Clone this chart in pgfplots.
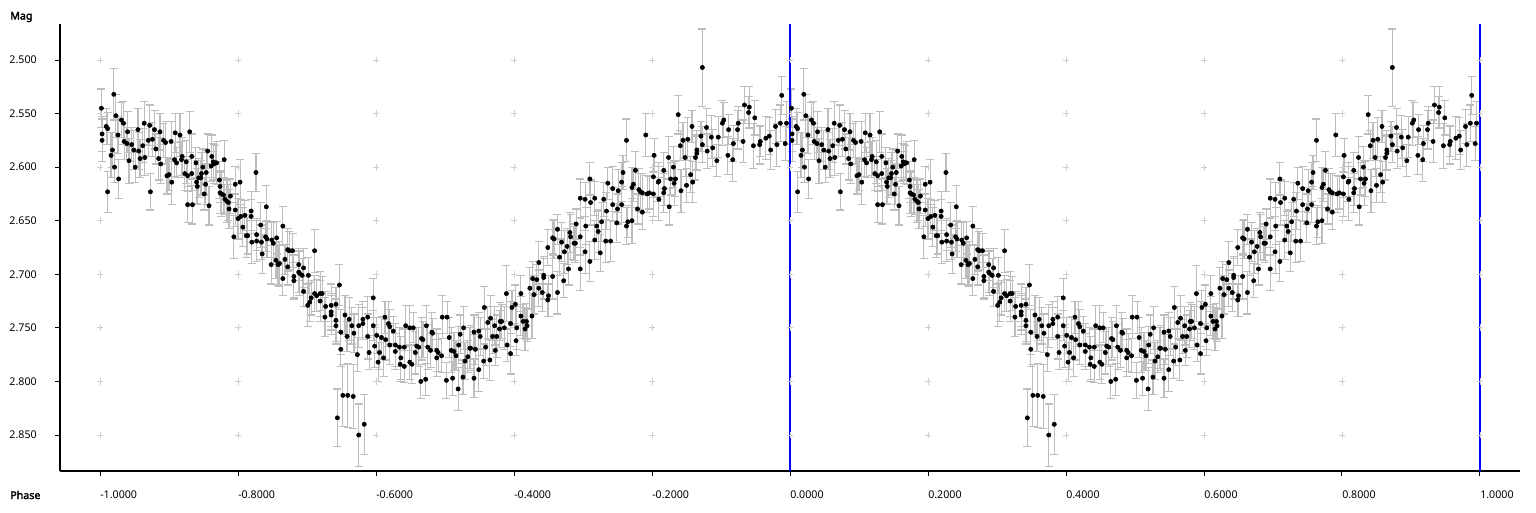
\documentclass[border=0pt]{standalone}
\usepackage{fontspec}
\setmainfont{Noto Sans}[AutoFakeBold=2.5]
\usepackage{pgfplots}
\usepackage{pgfplotstable}
\pgfplotsset{compat=1.18}
\definecolor{ebar}{RGB}{190,190,190}
\definecolor{gridc}{RGB}{208,208,208}

% phase, magnitude, error (one cycle; drawn at phase-1 and phase)
\pgfplotstableread{
x y e
0.002 2.545 0.018
0.003 2.569 0.016
0.003 2.575 0.020
0.009 2.562 0.017
0.011 2.564 0.015
0.011 2.623 0.019
0.016 2.589 0.021
0.018 2.584 0.016
0.020 2.532 0.024
0.021 2.600 0.014
0.023 2.552 0.020
0.026 2.570 0.017
0.027 2.611 0.018
0.031 2.556 0.016
0.034 2.559 0.020
0.035 2.576 0.017
0.039 2.578 0.015
0.040 2.567 0.019
0.042 2.594 0.021
0.046 2.579 0.016
0.049 2.584 0.018
0.051 2.600 0.014
0.055 2.565 0.020
0.056 2.585 0.017
0.058 2.592 0.018
0.062 2.580 0.016
0.064 2.559 0.020
0.065 2.591 0.017
0.070 2.575 0.015
0.072 2.561 0.019
0.073 2.623 0.017
0.076 2.574 0.016
0.079 2.565 0.018
0.081 2.583 0.014
0.085 2.592 0.020
0.087 2.567 0.017
0.088 2.597 0.018
0.092 2.575 0.016
0.095 2.577 0.020
0.097 2.608 0.017
0.100 2.607 0.015
0.103 2.576 0.019
0.104 2.614 0.021
0.108 2.593 0.016
0.109 2.568 0.018
0.111 2.596 0.014
0.116 2.570 0.020
0.118 2.593 0.017
0.119 2.590 0.018
0.123 2.606 0.016
0.125 2.595 0.020
0.127 2.635 0.017
0.127 2.608 0.015
0.130 2.567 0.019
0.133 2.590 0.021
0.133 2.606 0.016
0.134 2.635 0.018
0.139 2.596 0.014
0.140 2.614 0.020
0.141 2.618 0.017
0.143 2.610 0.018
0.146 2.610 0.016
0.147 2.606 0.020
0.149 2.600 0.017
0.151 2.625 0.015
0.153 2.616 0.019
0.154 2.605 0.021
0.156 2.585 0.016
0.158 2.636 0.018
0.161 2.599 0.014
0.162 2.590 0.020
0.164 2.595 0.017
0.165 2.597 0.018
0.167 2.596 0.016
0.169 2.596 0.020
0.173 2.612 0.017
0.174 2.618 0.015
0.174 2.624 0.019
0.176 2.625 0.021
0.179 2.626 0.016
0.180 2.593 0.018
0.181 2.630 0.014
0.184 2.632 0.020
0.186 2.633 0.017
0.187 2.639 0.018
0.189 2.627 0.016
0.194 2.665 0.020
0.196 2.616 0.017
0.196 2.640 0.015
0.200 2.648 0.019
0.203 2.614 0.021
0.204 2.646 0.016
0.207 2.656 0.018
0.210 2.645 0.014
0.212 2.664 0.020
0.214 2.664 0.017
0.219 2.641 0.018
0.219 2.646 0.016
0.220 2.670 0.020
0.226 2.605 0.018
0.227 2.663 0.015
0.227 2.669 0.019
0.233 2.654 0.021
0.234 2.670 0.016
0.235 2.681 0.018
0.240 2.665 0.014
0.241 2.637 0.020
0.242 2.667 0.017
0.248 2.691 0.018
0.249 2.668 0.016
0.251 2.671 0.020
0.255 2.687 0.017
0.256 2.666 0.015
0.258 2.691 0.019
0.260 2.690 0.021
0.265 2.704 0.016
0.265 2.655 0.018
0.268 2.686 0.014
0.272 2.677 0.020
0.272 2.693 0.017
0.274 2.678 0.018
0.279 2.678 0.016
0.281 2.702 0.020
0.281 2.706 0.017
0.288 2.691 0.015
0.288 2.698 0.019
0.289 2.699 0.021
0.293 2.701 0.016
0.295 2.694 0.018
0.295 2.716 0.014
0.301 2.729 0.020
0.302 2.701 0.017
0.304 2.726 0.018
0.306 2.722 0.016
0.311 2.678 0.020
0.311 2.718 0.017
0.314 2.720 0.015
0.319 2.725 0.019
0.319 2.718 0.021
0.322 2.718 0.016
0.326 2.740 0.018
0.327 2.730 0.014
0.335 2.729 0.020
0.335 2.735 0.017
0.335 2.738 0.018
0.342 2.728 0.016
0.342 2.743 0.020
0.342 2.748 0.017
0.344 2.834 0.027
0.347 2.710 0.019
0.349 2.754 0.021
0.349 2.770 0.016
0.352 2.813 0.029
0.355 2.738 0.018
0.358 2.758 0.014
0.359 2.813 0.030
0.361 2.742 0.020
0.365 2.748 0.017
0.367 2.814 0.030
0.368 2.755 0.018
0.373 2.775 0.016
0.375 2.850 0.029
0.375 2.748 0.020
0.381 2.742 0.017
0.381 2.746 0.015
0.383 2.840 0.028
0.388 2.740 0.019
0.388 2.758 0.021
0.390 2.773 0.016
0.396 2.722 0.018
0.396 2.748 0.014
0.398 2.767 0.020
0.401 2.757 0.017
0.403 2.782 0.018
0.405 2.773 0.016
0.408 2.759 0.020
0.411 2.778 0.017
0.413 2.740 0.015
0.414 2.761 0.019
0.418 2.746 0.021
0.420 2.749 0.016
0.420 2.766 0.018
0.425 2.753 0.014
0.428 2.766 0.020
0.428 2.772 0.017
0.434 2.768 0.018
0.435 2.784 0.016
0.436 2.778 0.020
0.441 2.768 0.017
0.441 2.786 0.015
0.443 2.748 0.019
0.449 2.750 0.021
0.449 2.782 0.016
0.452 2.784 0.018
0.454 2.750 0.014
0.457 2.773 0.020
0.459 2.767 0.017
0.462 2.768 0.018
0.465 2.800 0.016
0.466 2.760 0.020
0.468 2.761 0.017
0.472 2.798 0.015
0.473 2.748 0.019
0.475 2.768 0.021
0.479 2.771 0.016
0.481 2.754 0.018
0.482 2.755 0.014
0.488 2.771 0.020
0.488 2.778 0.017
0.490 2.773 0.018
0.495 2.776 0.016
0.496 2.740 0.020
0.502 2.799 0.017
0.503 2.740 0.015
0.506 2.759 0.019
0.509 2.771 0.021
0.511 2.797 0.016
0.513 2.772 0.018
0.516 2.776 0.014
0.519 2.807 0.020
0.520 2.766 0.017
0.522 2.756 0.018
0.526 2.796 0.016
0.527 2.750 0.020
0.529 2.781 0.017
0.533 2.777 0.015
0.536 2.769 0.019
0.537 2.769 0.021
0.542 2.754 0.016
0.542 2.797 0.018
0.544 2.770 0.014
0.549 2.789 0.020
0.549 2.753 0.017
0.551 2.758 0.018
0.556 2.781 0.016
0.557 2.731 0.020
0.559 2.768 0.017
0.562 2.745 0.015
0.565 2.780 0.019
0.566 2.741 0.021
0.569 2.758 0.016
0.572 2.748 0.018
0.573 2.771 0.014
0.575 2.758 0.020
0.579 2.751 0.017
0.580 2.744 0.018
0.582 2.744 0.016
0.586 2.750 0.020
0.589 2.718 0.026
0.590 2.766 0.015
0.595 2.774 0.019
0.595 2.746 0.021
0.597 2.731 0.016
0.602 2.728 0.018
0.603 2.762 0.014
0.604 2.750 0.020
0.610 2.718 0.017
0.610 2.739 0.018
0.613 2.744 0.016
0.616 2.751 0.020
0.618 2.744 0.017
0.619 2.748 0.015
0.623 2.713 0.019
0.626 2.739 0.021
0.627 2.704 0.016
0.629 2.719 0.018
0.633 2.705 0.014
0.636 2.689 0.020
0.636 2.713 0.017
0.641 2.717 0.018
0.643 2.701 0.016
0.643 2.703 0.020
0.649 2.675 0.017
0.649 2.724 0.015
0.650 2.720 0.019
0.656 2.702 0.021
0.656 2.666 0.016
0.658 2.667 0.018
0.663 2.658 0.014
0.663 2.717 0.020
0.666 2.684 0.017
0.669 2.670 0.018
0.672 2.706 0.016
0.673 2.679 0.020
0.677 2.674 0.017
0.679 2.695 0.015
0.681 2.661 0.019
0.682 2.665 0.021
0.687 2.671 0.016
0.689 2.671 0.018
0.690 2.653 0.014
0.696 2.695 0.020
0.696 2.665 0.017
0.696 2.629 0.018
0.703 2.630 0.016
0.703 2.679 0.020
0.704 2.655 0.017
0.710 2.611 0.015
0.710 2.688 0.019
0.711 2.633 0.021
0.717 2.629 0.016
0.717 2.668 0.018
0.720 2.655 0.014
0.722 2.660 0.020
0.725 2.680 0.017
0.727 2.651 0.018
0.730 2.630 0.016
0.733 2.669 0.020
0.734 2.641 0.017
0.736 2.615 0.015
0.740 2.669 0.019
0.743 2.620 0.021
0.743 2.635 0.016
0.749 2.652 0.018
0.750 2.639 0.014
0.751 2.622 0.020
0.756 2.635 0.017
0.756 2.614 0.018
0.758 2.605 0.016
0.763 2.575 0.020
0.763 2.655 0.017
0.765 2.651 0.015
0.771 2.619 0.019
0.771 2.650 0.021
0.773 2.616 0.016
0.776 2.603 0.018
0.779 2.639 0.014
0.781 2.621 0.020
0.783 2.623 0.017
0.786 2.624 0.018
0.786 2.642 0.016
0.791 2.570 0.020
0.793 2.625 0.017
0.796 2.624 0.015
0.802 2.609 0.019
0.802 2.625 0.021
0.803 2.589 0.016
0.809 2.614 0.018
0.810 2.613 0.014
0.810 2.630 0.020
0.817 2.603 0.017
0.817 2.624 0.018
0.818 2.620 0.016
0.824 2.591 0.020
0.825 2.637 0.017
0.827 2.611 0.015
0.831 2.600 0.019
0.832 2.615 0.021
0.834 2.611 0.016
0.838 2.551 0.018
0.841 2.580 0.014
0.842 2.622 0.020
0.845 2.575 0.017
0.848 2.591 0.018
0.850 2.617 0.016
0.852 2.574 0.020
0.856 2.607 0.017
0.858 2.562 0.015
0.859 2.614 0.019
0.863 2.591 0.021
0.865 2.587 0.016
0.865 2.584 0.018
0.871 2.571 0.014
0.873 2.507 0.036
0.873 2.579 0.017
0.879 2.563 0.018
0.880 2.585 0.016
0.886 2.572 0.020
0.888 2.582 0.017
0.894 2.594 0.015
0.896 2.572 0.019
0.902 2.559 0.021
0.904 2.556 0.016
0.910 2.589 0.018
0.911 2.565 0.014
0.917 2.593 0.020
0.918 2.578 0.017
0.924 2.565 0.018
0.925 2.559 0.016
0.932 2.576 0.020
0.934 2.542 0.017
0.940 2.549 0.015
0.941 2.544 0.019
0.947 2.580 0.021
0.949 2.554 0.016
0.956 2.579 0.018
0.957 2.576 0.014
0.965 2.573 0.020
0.970 2.571 0.017
0.972 2.584 0.018
0.979 2.562 0.016
0.981 2.579 0.020
0.986 2.559 0.017
0.988 2.533 0.018
0.993 2.578 0.016
0.995 2.559 0.020
}\phasedata

\begin{document}
\begin{tikzpicture}[font=\fontsize{8pt}{9.6pt}\selectfont]
\useasboundingbox (-45pt,-30.75pt) rectangle (1107pt,353.25pt);
\begin{axis}[
  at={(0,0)}, anchor=south west,
  scale only axis, width=1095pt, height=335.25pt,
  xmin=-1.058, xmax=1.058, ymin=2.4664, ymax=2.8836,
  y dir=reverse,
  axis x line=bottom, axis y line=left,
  axis line style={-, black, line width=0.9pt},
  xtick={-1,-0.8,-0.6,-0.4,-0.2,0,0.2,0.4,0.6,0.8,1},
  xticklabels={-1.0000,-0.8000,-0.6000,-0.4000,-0.2000,0.0000,0.2000,0.4000,0.6000,0.8000,1.0000},
  ytick={2.5,2.55,2.6,2.65,2.7,2.75,2.8,2.85},
  yticklabels={2.500,2.550,2.600,2.650,2.700,2.750,2.800,2.850},
  tick align=outside, major tick length=3.75pt,
  tick style={black, line width=0.75pt},
  xticklabel style={anchor=west, inner sep=0pt, yshift=-14pt},
  yticklabel style={anchor=east, inner sep=0pt, xshift=-13.5pt},
  clip=false,
]
\pgfplotsinvokeforeach{2.50,2.55,2.60,2.65,2.70,2.75,2.80,2.85}{
  \addplot[only marks, mark=+, mark size=2.6pt, color=gridc, mark options={line width=0.6pt}]
    coordinates {(-1,#1)(-0.8,#1)(-0.6,#1)(-0.4,#1)(-0.2,#1)(0,#1)(0.2,#1)(0.4,#1)(0.6,#1)(0.8,#1)(1,#1)};
}
\addplot[only marks, mark=*, mark size=1.6pt, black,
  error bars/.cd, y dir=both, y explicit,
  error bar style={color=ebar, line width=0.85pt},
  error mark options={rotate=90, mark size=3pt, color=ebar, line width=0.85pt}]
  table[x expr=\thisrow{x}-1, y=y, y error=e] {\phasedata};
\addplot[only marks, mark=*, mark size=1.6pt, black,
  error bars/.cd, y dir=both, y explicit,
  error bar style={color=ebar, line width=0.85pt},
  error mark options={rotate=90, mark size=3pt, color=ebar, line width=0.85pt}]
  table[x=x, y=y, y error=e] {\phasedata};
\draw[blue, line width=1pt] (axis cs:0,2.4664) -- (axis cs:0,2.8836);
\draw[blue, line width=1pt] (axis cs:1,2.4664) -- (axis cs:1,2.8836);
\end{axis}
\node[anchor=west, inner sep=0pt, font=\fontsize{8pt}{9.6pt}\selectfont\bfseries] at (-37.5pt,340.5pt) {Mag};
\node[anchor=west, inner sep=0pt, font=\fontsize{8pt}{9.6pt}\selectfont\bfseries] at (-37.5pt,-18pt) {Phase};
\end{tikzpicture}
\end{document}
